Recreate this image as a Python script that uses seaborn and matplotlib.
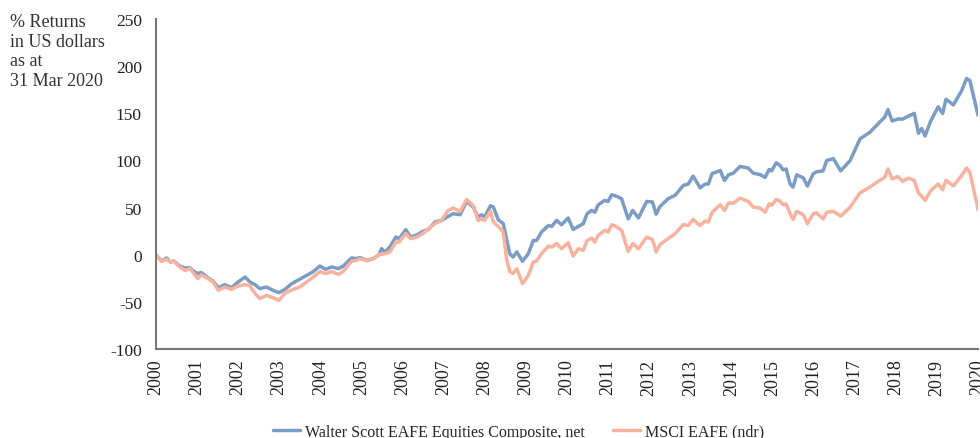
import matplotlib
matplotlib.use("Agg")
import matplotlib.pyplot as plt
import pandas as pd
import seaborn as sns

# decimal years at which both series were read
years = [
    2000.00, 2000.14, 2000.26, 2000.36, 2000.44, 2000.58, 2000.71, 2000.83, 2000.90, 2001.02,
    2001.11, 2001.27, 2001.39, 2001.52, 2001.68, 2001.84, 2002.00, 2002.17, 2002.29, 2002.41,
    2002.53, 2002.69, 2002.86, 2003.00, 2003.14, 2003.30, 2003.50, 2003.67, 2003.83, 2003.99,
    2004.13, 2004.28, 2004.44, 2004.56, 2004.76, 2004.88, 2004.96, 2005.13, 2005.29, 2005.43,
    2005.49, 2005.57, 2005.69, 2005.84, 2005.92, 2006.08, 2006.20, 2006.36, 2006.49, 2006.63,
    2006.79, 2006.95, 2007.11, 2007.23, 2007.40, 2007.56, 2007.72, 2007.84, 2007.92, 2008.00,
    2008.14, 2008.21, 2008.33, 2008.45, 2008.53, 2008.61, 2008.69, 2008.78, 2008.92, 2009.06,
    2009.18, 2009.26, 2009.38, 2009.55, 2009.63, 2009.75, 2009.87, 2010.03, 2010.15, 2010.28,
    2010.40, 2010.49, 2010.60, 2010.68, 2010.76, 2010.92, 2011.00, 2011.09, 2011.21, 2011.33,
    2011.49, 2011.60, 2011.74, 2011.94, 2012.08, 2012.17, 2012.26, 2012.46, 2012.63, 2012.83,
    2012.95, 2013.07, 2013.24, 2013.36, 2013.44, 2013.53, 2013.73, 2013.83, 2013.93, 2014.05,
    2014.21, 2014.41, 2014.53, 2014.70, 2014.82, 2014.92, 2014.98, 2015.09, 2015.18, 2015.26,
    2015.33, 2015.43, 2015.50, 2015.59, 2015.75, 2015.85, 2015.99, 2016.07, 2016.23, 2016.32,
    2016.48, 2016.66, 2016.89, 2017.13, 2017.37, 2017.57, 2017.73, 2017.81, 2017.91, 2018.05,
    2018.17, 2018.30, 2018.45, 2018.55, 2018.63, 2018.71, 2018.85, 2019.03, 2019.14, 2019.22,
    2019.40, 2019.60, 2019.72, 2019.80, 2020.00,
]

walter_scott = [
    0, -6.7, -3.5, -7.8, -6.7, -12, -14, -14, -17, -20,
    -19, -24.7, -28, -35, -31.8, -35, -29, -23.7, -29, -31.8,
    -36, -34.3, -38, -40.3, -36.8, -31, -26, -22, -18, -12,
    -15.5, -13, -14.8, -12, -3.5, -4.2, -3, -6, -4.2, 0,
    6.4, 2.8, 8, 18.8, 17, 26.5, 18.8, 21.2, 24.7, 26.8,
    34.7, 36.4, 40.6, 43.5, 42.4, 56.5, 50.6, 40, 42.4, 40,
    52, 50.6, 37, 33, 17, 1, -2.5, 3, -7, 1,
    15, 15, 24, 31, 30, 36.4, 31.8, 39, 26.8, 30,
    33, 43.5, 47, 45, 53, 57.6, 56.5, 63.6, 62, 59.4,
    38, 47, 39, 56.5, 56, 43, 51, 59.4, 63, 73.5,
    75, 83.4, 71, 75, 75, 86, 89.4, 78.8, 84.8, 86.6,
    93.7, 92, 86.6, 85, 82, 90.5, 89, 97.6, 95, 90,
    91, 75, 71.8, 84.8, 81.6, 72.8, 85.9, 88, 89, 100,
    102, 89, 100, 123, 130, 139, 146, 154, 142, 144,
    144, 147, 150, 129, 134, 126, 142, 157, 150, 165,
    159, 174, 187, 185, 148,
]

msci_eafe = [
    0, -6.7, -5, -7.8, -7, -13, -16.6, -14.8, -18.4, -25.5,
    -21.2, -25.5, -29, -37.8, -34.3, -36.8, -33.2, -31.8, -33.2, -41,
    -46.7, -43.2, -46, -48.5, -41, -37.5, -34.3, -29, -23.7, -18,
    -20, -18, -21, -17.7, -7, -6, -4.2, -6.4, -4.2, 0,
    0.5, 1, 2.8, 13.4, 13.4, 22.3, 17, 18.8, 22.3, 27.6,
    33, 36.4, 47, 49.5, 46, 58.6, 52.3, 36.4, 38, 36.4,
    46, 34.7, 30, 24, -4, -18, -20, -15, -30.7, -22,
    -7.8, -7, 1, 9.2, 8, 11.7, 6.4, 12.7, -1.4, 6.4,
    4.6, 15, 17.7, 13.4, 20.5, 25.8, 24, 31.8, 29.4, 25.8,
    3.5, 11.7, 6.4, 18.8, 16, 2.8, 10.5, 17, 22.3, 32,
    31, 37.4, 31, 35.7, 34.7, 45, 53, 47, 54.8, 54.8,
    60, 56.5, 50.6, 49.5, 45, 54, 52.3, 58.6, 57, 53,
    54, 43.5, 37.4, 46, 42.4, 32.9, 43.5, 44.5, 38, 45,
    46, 41, 50.5, 65.7, 71.8, 77.8, 82, 91, 80.6, 83,
    77.8, 81.3, 78.8, 65.7, 62, 57.6, 68, 75, 69, 79,
    73, 84, 92, 87.7, 48,
]

series_names = ["Walter Scott EAFE Equities Composite, net", "MSCI EAFE (ndr)"]
year_ticks = list(range(2000, 2021))
value_ticks = [-100, -50, 0, 50, 100, 150, 200, 250]

df = pd.concat([
    pd.DataFrame({"year": years, "value": walter_scott, "series": series_names[0]}),
    pd.DataFrame({"year": years, "value": msci_eafe, "series": series_names[1]}),
])

sns.set_style("white")
plt.rcParams["font.family"] = ["Liberation Serif", "DejaVu Serif"]
plt.rcParams["axes.unicode_minus"] = False

fig = plt.figure(figsize=(9.8, 4.39), dpi=100)
ax = fig.add_axes([0.159, 0.203, 0.839, 0.751])

palette = {series_names[0]: "#7b9cc4", series_names[1]: "#f8b29d"}
sns.lineplot(data=df, x="year", y="value", hue="series", palette=palette,
             linewidth=2.5, ax=ax, legend=False)

ax.set_xlim(2000, 2020)
ax.set_ylim(-100, 250)
ax.set_xticks(year_ticks)
ax.set_xticklabels([str(y) for y in year_ticks], rotation=90, fontsize=13)
ax.set_yticks(value_ticks)
ax.set_yticklabels([str(v) for v in value_ticks], fontsize=12.5)
ax.set_xlabel("")
ax.set_ylabel("")

for side in ["top", "right"]:
    ax.spines[side].set_visible(False)
for side in ["left", "bottom"]:
    ax.spines[side].set_color("#777777")
    ax.spines[side].set_linewidth(1.5)
ax.tick_params(axis="both", direction="out", length=4, width=1, color="#555555",
               labelcolor="#222222")
ax.tick_params(axis="y", pad=6)
ax.tick_params(axis="x", pad=3)

fig.text(0.010, 0.968, "% Returns\nin US dollars\nas at\n31 Mar 2020",
         ha="left", va="top", fontsize=13, color="#333333", linespacing=1.2)

handles = [plt.Line2D([], [], color=palette[n], lw=2.5) for n in series_names]
fig.legend(handles, series_names, loc="center", bbox_to_anchor=(0.529, 0.014),
           ncol=2, frameon=False, fontsize=11.5, handlelength=1.7, columnspacing=1.8,
           handletextpad=0.3, borderpad=0, borderaxespad=0)

fig.savefig("out.png", dpi=100)
